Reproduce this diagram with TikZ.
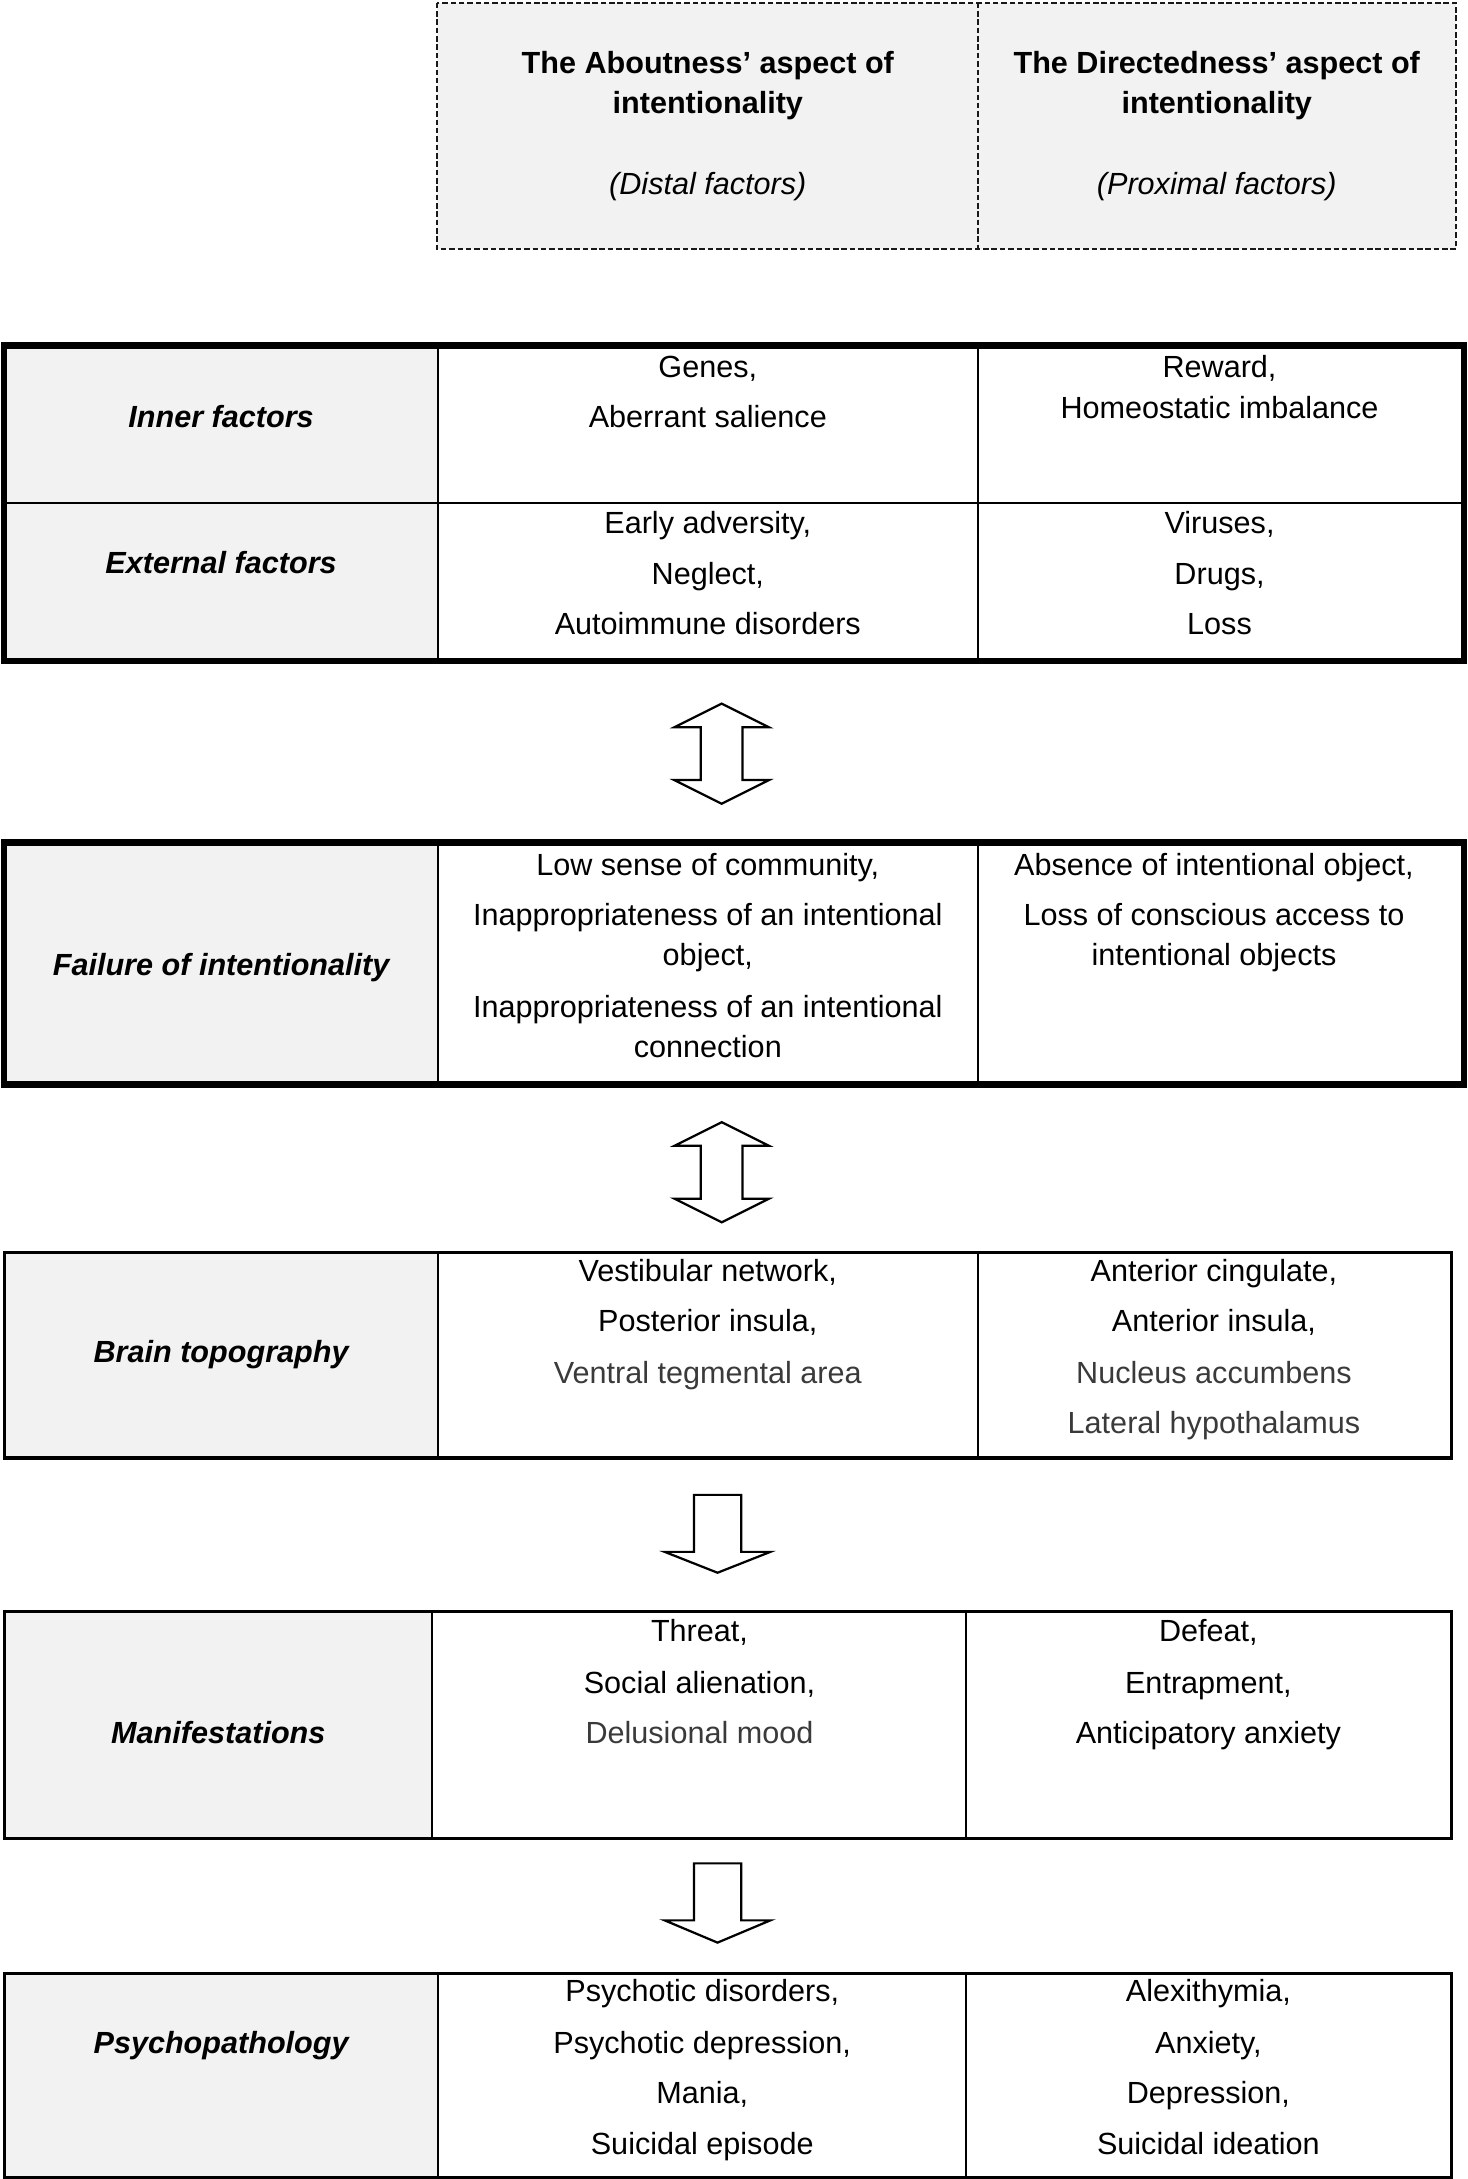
\documentclass[tikz,border=0pt]{standalone}
\usepackage{fontspec}
\setmainfont{Liberation Sans}
\usetikzlibrary{calc}
\definecolor{cellgray}{HTML}{F2F2F2}
\definecolor{softtext}{HTML}{3A3A3A}
\begin{document}
\begin{tikzpicture}[x=0.5pt,y=-0.5pt,
  txt/.style={font=\fontsize{11pt}{13pt}\selectfont, inner sep=0pt, text height=1.5ex, text depth=0.25ex, anchor=center},
  soft/.style={txt, text=softtext},
  lab/.style={txt, font=\fontsize{11pt}{13pt}\selectfont\bfseries\itshape},
  head/.style={txt, font=\fontsize{11pt}{13pt}\selectfont\bfseries},
  headit/.style={txt, font=\fontsize{11pt}{13pt}\selectfont\itshape},
  graycell/.style={fill=cellgray, draw=black!35, line width=0.5pt},
  inner/.style={draw=black, line width=0.7pt},
  thickframe/.style={draw=black, line width=2.3pt},
  thinframe/.style={draw=black, line width=1.1pt},
  dashedframe/.style={draw=black!90, line width=0.8pt, dash pattern=on 2pt off 1pt},
  blockarrow/.style={draw=black, fill=white, line width=0.8pt, line join=miter}
]
\useasboundingbox (0,0) rectangle (1055,1567);

% ---------- header ----------
\path[fill=cellgray] (314,2) rectangle (1047,179);
\draw[dashedframe] (314,2) rectangle (1047,179);
\draw[dashedframe] (703.5,2) -- (703.5,179);
\node[head] (h1a) at (509,46) {The Aboutness’ aspect of};
\node[head] (h1b) at (509,75) {intentionality};
\node[headit] (h1c) at (509,133) {(Distal factors)};
\node[head] (h2a) at (875,46) {The Directedness’ aspect of};
\node[head] (h2b) at (875,75) {intentionality};
\node[headit] (h2c) at (875,133) {(Proximal factors)};

% ---------- table 1 ----------
\path[graycell] (3,248.5) rectangle (315,475.5);
\draw[inner] (315,248.5) -- (315,475.5);
\draw[inner] (703,248.5) -- (703,475.5);
\draw[inner] (3,362) -- (1053,362);
\draw[thickframe] (3,248.5) rectangle (1053,475.5);
\node[lab] (l1) at (159,301) {Inner factors};
\node[txt] (a11) at (509,265) {Genes,};
\node[txt] (a12) at (509,301) {Aberrant salience};
\node[txt] (b11) at (877,265) {Reward,};
\node[txt] (b12) at (877,294) {Homeostatic imbalance};
\node[lab] (l2) at (159,406) {External factors};
\node[txt] (a21) at (509,377) {Early adversity,};
\node[txt] (a22) at (509,414) {Neglect,};
\node[txt] (a23) at (509,450) {Autoimmune disorders};
\node[txt] (b21) at (877,377) {Viruses,};
\node[txt] (b22) at (877,414) {Drugs,};
\node[txt] (b23) at (877,450) {Loss};

% ---------- double arrow 1 ----------
\coordinate (d1t) at (519,506);
\coordinate (d1b) at (519,578);
\draw[blockarrow] (d1t) -- ++(34,17) -- ++(-19,0) -- ($(d1b)+(15,-17)$) -- ++(19,0) -- (d1b)
  -- ++(-34,-17) -- ++(19,0) -- ($(d1t)+(-15,17)$) -- ++(-19,0) -- cycle;

% ---------- table 2 ----------
\path[graycell] (3,606) rectangle (315,780);
\draw[inner] (315,606) -- (315,780);
\draw[inner] (703,606) -- (703,780);
\draw[thickframe] (3,606) rectangle (1053,780);
\node[lab] (l3) at (159,695) {Failure of intentionality};
\node[txt] (a31) at (509,623) {Low sense of community,};
\node[txt] (a32) at (509,659) {Inappropriateness of an intentional};
\node[txt] (a33) at (509,688) {object,};
\node[txt] (a34) at (509,725) {Inappropriateness of an intentional};
\node[txt] (a35) at (509,754) {connection};
\node[txt] (b31) at (873,623) {Absence of intentional object,};
\node[txt] (b32) at (873,659) {Loss of conscious access to};
\node[txt] (b33) at (873,688) {intentional objects};

% ---------- double arrow 2 ----------
\coordinate (d2t) at (519,807);
\coordinate (d2b) at (519,879);
\draw[blockarrow] (d2t) -- ++(34,17) -- ++(-19,0) -- ($(d2b)+(15,-17)$) -- ++(19,0) -- (d2b)
  -- ++(-34,-17) -- ++(19,0) -- ($(d2t)+(-15,17)$) -- ++(-19,0) -- cycle;

% ---------- table 3 ----------
\path[graycell] (3,900.5) rectangle (315,1048.5);
\draw[inner] (315,900.5) -- (315,1048.5);
\draw[inner] (703,900.5) -- (703,1048.5);
\draw[thinframe] (3,900.5) rectangle (1044,1048.5);
\node[lab] (l4) at (159,973) {Brain topography};
\node[txt] (a41) at (509,915) {Vestibular network,};
\node[txt] (a42) at (509,951) {Posterior insula,};
\node[soft] (a43) at (509,988) {Ventral tegmental area};
\node[txt] (b41) at (873,915) {Anterior cingulate,};
\node[txt] (b42) at (873,951) {Anterior insula,};
\node[soft] (b43) at (873,988) {Nucleus accumbens};
\node[soft] (b44) at (873,1024) {Lateral hypothalamus};

% ---------- down arrow 1 ----------
\coordinate (s1t) at (516,1075);
\coordinate (s1b) at (516,1131);
\draw[blockarrow] ($(s1t)+(-17,0)$) -- ($(s1t)+(17,0)$) -- ($(s1b)+(17,-15)$) -- ++(21,0) -- (s1b)
  -- ($(s1b)+(-38,-15)$) -- ++(21,0) -- cycle;

% ---------- table 4 ----------
\path[graycell] (3,1159) rectangle (311,1322);
\draw[inner] (311,1159) -- (311,1322);
\draw[inner] (695,1159) -- (695,1322);
\draw[thinframe] (3,1159) rectangle (1044,1322);
\node[lab] (l5) at (157,1247) {Manifestations};
\node[txt] (a51) at (503,1174) {Threat,};
\node[txt] (a52) at (503,1211) {Social alienation,};
\node[soft] (a53) at (503,1247) {Delusional mood};
\node[txt] (b51) at (869,1174) {Defeat,};
\node[txt] (b52) at (869,1211) {Entrapment,};
\node[txt] (b53) at (869,1247) {Anticipatory anxiety};

% ---------- down arrow 2 ----------
\coordinate (s2t) at (516,1340);
\coordinate (s2b) at (516,1397);
\draw[blockarrow] ($(s2t)+(-17,0)$) -- ($(s2t)+(17,0)$) -- ($(s2b)+(17,-16)$) -- ++(21,0) -- (s2b)
  -- ($(s2b)+(-38,-16)$) -- ++(21,0) -- cycle;

% ---------- table 5 ----------
\path[graycell] (3,1419.5) rectangle (315,1566);
\draw[inner] (315,1419.5) -- (315,1566);
\draw[inner] (695,1419.5) -- (695,1566);
\draw[thinframe] (3,1419.5) rectangle (1044,1566);
\node[lab] (l6) at (159,1470) {Psychopathology};
\node[txt] (a61) at (505,1433) {Psychotic disorders,};
\node[txt] (a62) at (505,1470) {Psychotic depression,};
\node[txt] (a63) at (505,1506) {Mania,};
\node[txt] (a64) at (505,1543) {Suicidal episode};
\node[txt] (b61) at (869,1433) {Alexithymia,};
\node[txt] (b62) at (869,1470) {Anxiety,};
\node[txt] (b63) at (869,1506) {Depression,};
\node[txt] (b64) at (869,1543) {Suicidal ideation};
\end{tikzpicture}
\end{document}
